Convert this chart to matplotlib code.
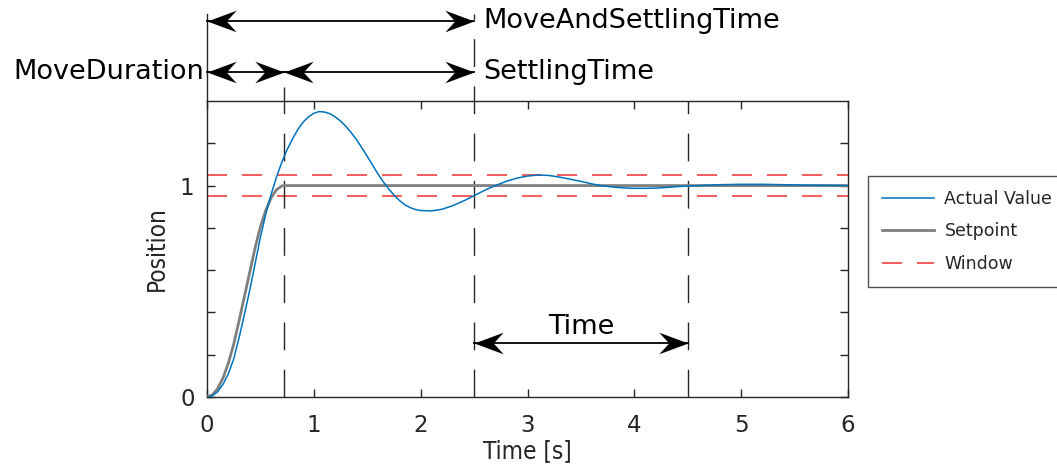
import matplotlib
matplotlib.use("Agg")
import matplotlib.pyplot as plt
from matplotlib.path import Path
from matplotlib.lines import Line2D

# ---------------- data ----------------
actual_t = [0, 0.05, 0.1, 0.15, 0.2, 0.25, 0.3, 0.35, 0.4, 0.45, 0.5, 0.55, 0.6, 0.65,
            0.7, 0.75, 0.8, 0.85, 0.9, 0.95, 1.0, 1.05, 1.1, 1.15, 1.2, 1.25, 1.3, 1.35,
            1.4, 1.45, 1.5, 1.55, 1.6, 1.65, 1.7, 1.75, 1.8, 1.85, 1.9, 1.95, 2.0, 2.1,
            2.2, 2.3, 2.4, 2.5, 2.6, 2.7, 2.8, 2.9, 3.0, 3.1, 3.2, 3.3, 3.4, 3.5, 3.6,
            3.7, 3.8, 3.9, 4.0, 4.1, 4.2, 4.3, 4.4, 4.5, 4.6, 4.8, 5.0, 5.2, 5.4, 5.6,
            5.8, 6.0]
actual_v = [0, 0.006, 0.025, 0.06, 0.11, 0.18, 0.28, 0.39, 0.505, 0.63, 0.755, 0.865, 0.958,
            1.04, 1.11, 1.17, 1.22, 1.265, 1.30, 1.325, 1.342, 1.35, 1.348, 1.34, 1.325,
            1.305, 1.28, 1.25, 1.217, 1.178, 1.138, 1.097, 1.055, 1.018, 0.985, 0.955,
            0.93, 0.91, 0.896, 0.887, 0.882, 0.88, 0.888, 0.905, 0.927, 0.952, 0.978,
            1.0, 1.02, 1.035, 1.045, 1.05, 1.048, 1.04, 1.03, 1.02, 1.008, 0.999, 0.993,
            0.989, 0.987, 0.987, 0.988, 0.991, 0.995, 0.998, 1.0, 1.004, 1.006, 1.006,
            1.004, 1.002, 1.001, 1.0]

setpoint_t = [0, 0.05, 0.1, 0.15, 0.2, 0.25, 0.3, 0.35, 0.4, 0.45, 0.5, 0.55, 0.6, 0.65,
              0.7, 0.72, 6.0]
setpoint_v = [0, 0.01, 0.04, 0.09, 0.16, 0.25, 0.36, 0.475, 0.59, 0.705, 0.805, 0.883,
              0.942, 0.98, 0.998, 1.0, 1.0]

window_upper = 1.05
window_lower = 0.95

move_duration_end = 0.72
settling_end = 2.5
time_window = [2.5, 4.5]

x_ticks = [0, 1, 2, 3, 4, 5, 6]
y_ticks = [0, 0.2, 0.4, 0.6, 0.8, 1.0, 1.2]
y_tick_labels = ["0", "", "", "", "", "1", ""]

legend_labels = ["Actual Value", "Setpoint", "Window"]

# ---------------- figure ----------------
W, H = 1057, 468
fig = plt.figure(figsize=(W / 100, H / 100), dpi=100)
ax = fig.add_axes([207 / W, 1 - 397 / H, 641 / W, 296 / H])

blue = "#0072BD"
grey = "#7f7f7f"
red = "#F04040"
dark = "#262626"

ax.plot(actual_t, actual_v, color=blue, lw=1.1, zorder=4)
ax.plot(setpoint_t, setpoint_v, color=grey, lw=2.0, zorder=3)
for yv in (window_upper, window_lower):
    ax.axhline(yv, color=red, lw=1.2, dashes=(12, 9), zorder=2)

ax.set_xlim(0, 6)
ax.set_ylim(0, 1.4)
ax.set_xticks(x_ticks)
ax.set_yticks(y_ticks)
ax.set_yticklabels(y_tick_labels)
ax.tick_params(direction="in", length=6, width=1, colors=dark, top=True, right=True,
               labelsize=16.5)
ax.tick_params(axis="x", pad=12)
ax.tick_params(axis="y", pad=9)
for sp in ax.spines.values():
    sp.set_color(dark)
    sp.set_linewidth(1.0)

ax.set_xlabel("Time [s]", fontsize=17.5, color=dark, labelpad=2,
              fontstretch="condensed")
ax.set_ylabel("Position", fontsize=17.5, color=dark, labelpad=8,
              fontstretch="condensed")

# vertical marker lines
y_top1 = (397 - 22) / 211.0     # level of top arrow row
y_top2 = (397 - 73) / 211.0     # level of second arrow row
y_line_top = (397 - 15) / 211.0
ax.plot([0, 0], [1.4, y_line_top], color=dark, lw=1.0, clip_on=False)
ax.plot([move_duration_end] * 2, [0, y_top2 - 0.07], color=dark, lw=1.0,
        dashes=(20, 14), clip_on=False)
ax.plot([settling_end] * 2, [0, y_line_top], color=dark, lw=1.0,
        dashes=(20, 14), clip_on=False)
ax.plot([time_window[1]] * 2, [0, 1.4], color=dark, lw=1.0,
        dashes=(20, 14), clip_on=False)

# notched arrowheads
head_r = Path([(0, 0), (-1, 0.37), (-0.66, 0), (-1, -0.37), (0, 0)],
              [Path.MOVETO, Path.LINETO, Path.LINETO, Path.LINETO, Path.CLOSEPOLY])
head_l = Path([(0, 0), (1, 0.37), (0.66, 0), (1, -0.37), (0, 0)],
              [Path.MOVETO, Path.LINETO, Path.LINETO, Path.LINETO, Path.CLOSEPOLY])


def double_arrow(x0, x1, y):
    ax.plot([x0, x1], [y, y], color="black", lw=1.3, clip_on=False, zorder=5)
    ax.plot([x0], [y], marker=head_l, ms=42, mfc="black", mew=0, clip_on=False, zorder=6)
    ax.plot([x1], [y], marker=head_r, ms=42, mfc="black", mew=0, clip_on=False, zorder=6)


double_arrow(0, settling_end, y_top1)
double_arrow(0, move_duration_end, y_top2)
double_arrow(move_duration_end, settling_end, y_top2)
y_time = (397 - 343) / 211.0
double_arrow(time_window[0], time_window[1], y_time)

ax.text(settling_end + 0.09, y_top1, "MoveAndSettlingTime", fontsize=19.5,
        ha="left", va="center", clip_on=False)
ax.text(settling_end + 0.09, y_top2, "SettlingTime", fontsize=19.5,
        ha="left", va="center", clip_on=False)
ax.text(-0.03, y_top2, "MoveDuration", fontsize=19.5,
        ha="right", va="center", clip_on=False)
ax.text(sum(time_window) / 2, (397 - 327) / 211.0, "Time", fontsize=19.5,
        ha="center", va="center")

# legend
handles = [Line2D([], [], color=blue, lw=1.1),
           Line2D([], [], color=grey, lw=2.0),
           Line2D([], [], color=red, lw=1.2, dashes=(12, 9))]
leg = fig.legend(handles, legend_labels, loc="lower left",
                 bbox_to_anchor=(868 / W, 1 - 287 / H), fontsize=12.5,
                 frameon=True, fancybox=False, handlelength=3.0,
                 handletextpad=0.6, labelspacing=0.85, borderpad=0.8,
                 borderaxespad=0)
leg.get_frame().set_edgecolor(dark)
leg.get_frame().set_linewidth(1.0)
for t in leg.get_texts():
    t.set_color(dark)

fig.savefig("out.png", dpi=100)
